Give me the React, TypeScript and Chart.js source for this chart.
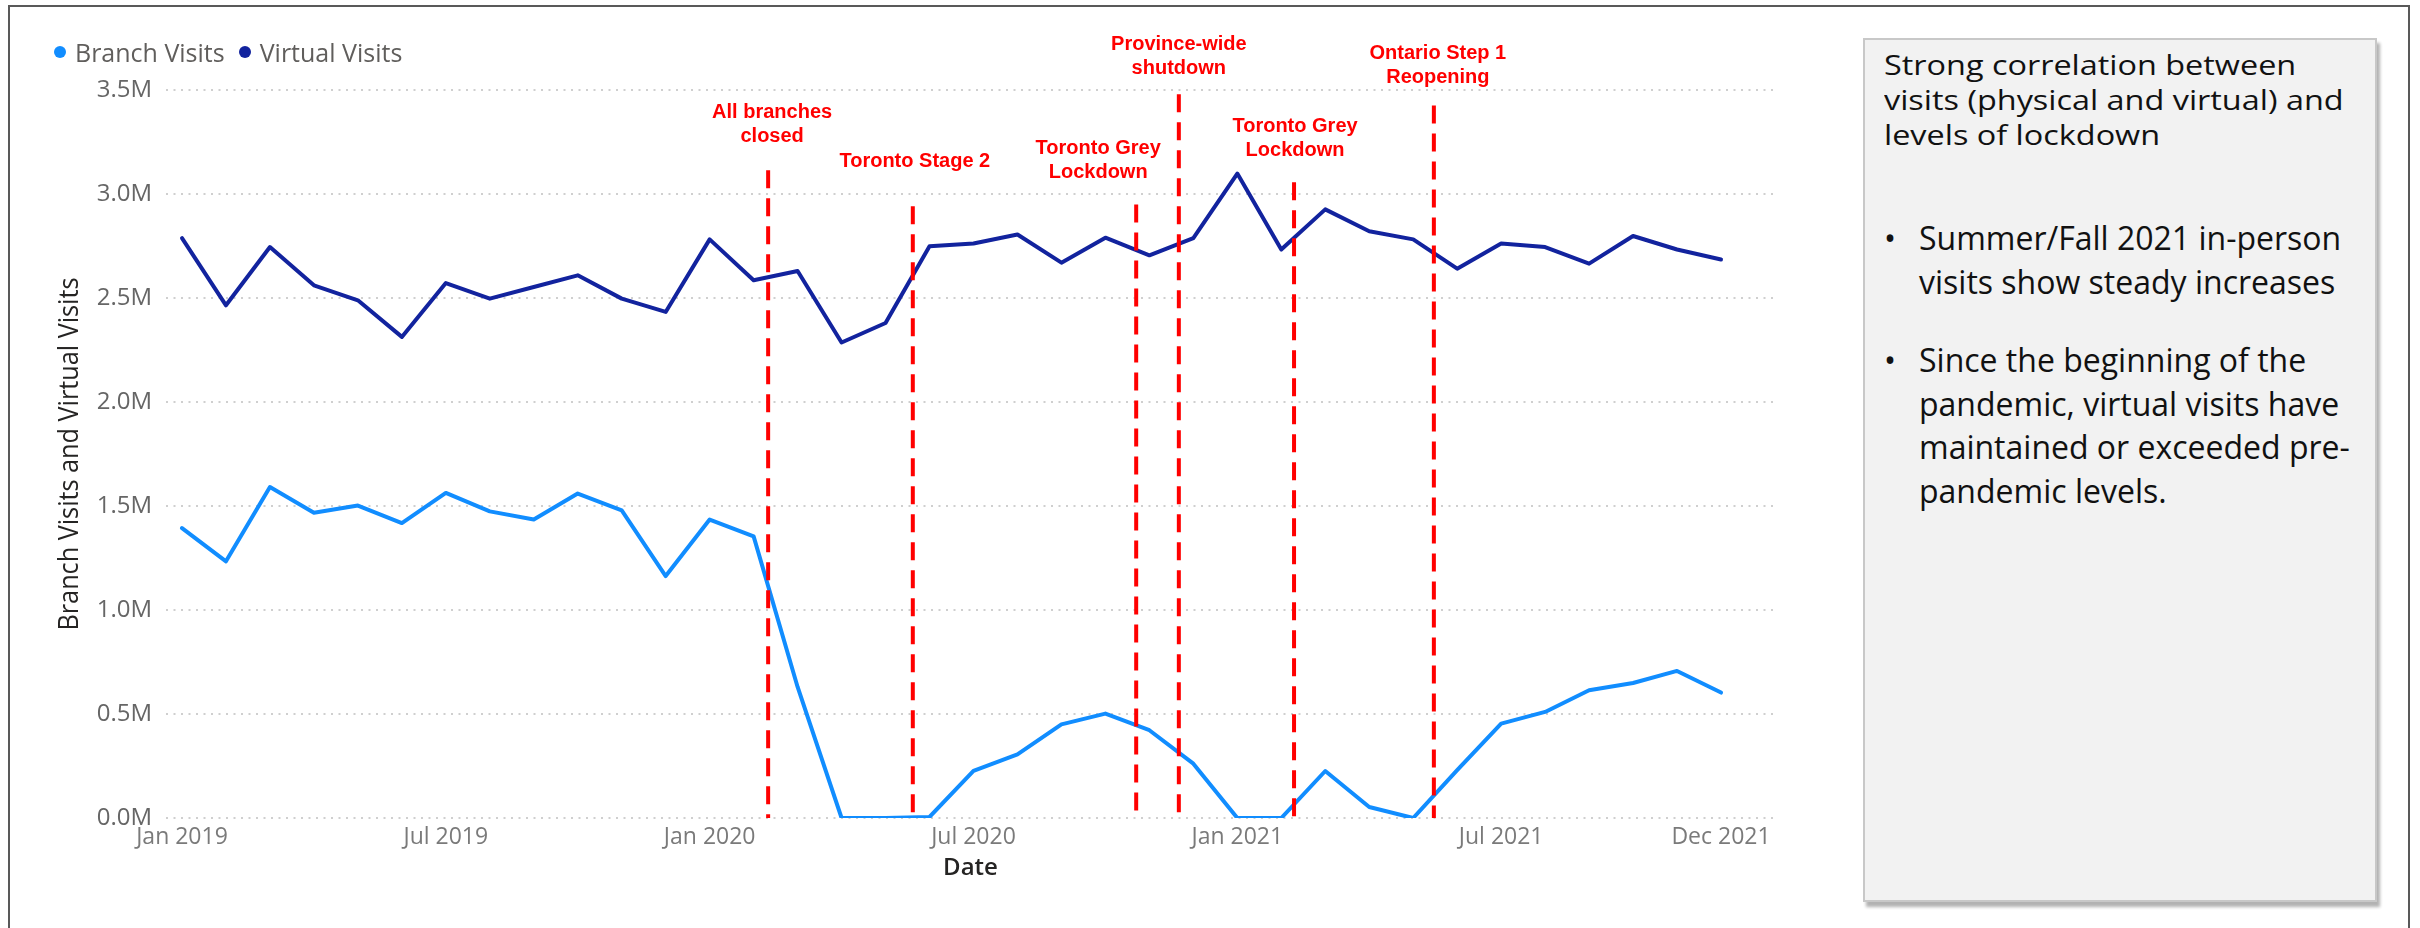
import React, { useEffect, useRef } from "react";
import { Chart, registerables } from "chart.js";

Chart.register(...registerables);

// Monthly categories
const months = [
  "Jan 2019", "Feb 2019", "Mar 2019", "Apr 2019", "May 2019", "Jun 2019",
  "Jul 2019", "Aug 2019", "Sep 2019", "Oct 2019", "Nov 2019", "Dec 2019",
  "Jan 2020", "Feb 2020", "Mar 2020", "Apr 2020", "May 2020", "Jun 2020",
  "Jul 2020", "Aug 2020", "Sep 2020", "Oct 2020", "Nov 2020", "Dec 2020",
  "Jan 2021", "Feb 2021", "Mar 2021", "Apr 2021", "May 2021", "Jun 2021",
  "Jul 2021", "Aug 2021", "Sep 2021", "Oct 2021", "Nov 2021", "Dec 2021",
];

// Visits, in millions
const branchVisits = [
  1.394, 1.234, 1.591, 1.468, 1.502, 1.418, 1.563, 1.474, 1.435, 1.56, 1.479, 1.163,
  1.435, 1.354, 0.63, 0.0, 0.0, 0.005, 0.226, 0.306, 0.45, 0.502, 0.422, 0.261,
  0.0, 0.0, 0.226, 0.053, 0.0, 0.23, 0.454, 0.51, 0.614, 0.649, 0.707, 0.603,
];
const virtualVisits = [
  2.788, 2.465, 2.745, 2.561, 2.489, 2.313, 2.572, 2.497, 2.553, 2.609, 2.497, 2.433,
  2.782, 2.585, 2.63, 2.286, 2.38, 2.749, 2.762, 2.805, 2.67, 2.79, 2.705, 2.788,
  3.098, 2.733, 2.926, 2.821, 2.782, 2.641, 2.762, 2.745, 2.665, 2.798, 2.733, 2.685,
];

const seriesNames = ["Branch Visits", "Virtual Visits"];
const seriesColors = ["#118DFF", "#12239E"];

const xTickLabels = ["Jan 2019", "Jul 2019", "Jan 2020", "Jul 2020", "Jan 2021", "Jul 2021", "Dec 2021"];
const yTickValues = [0, 0.5, 1, 1.5, 2, 2.5, 3, 3.5];

// Lockdown milestones: position on the month axis and the height where the marker starts (millions)
const eventLabels = [
  ["All branches", "closed"],
  ["Toronto Stage 2"],
  ["Toronto Grey", "Lockdown"],
  ["Province-wide", "shutdown"],
  ["Toronto Grey", "Lockdown"],
  ["Ontario Step 1", "Reopening"],
];
const eventMonthPos = [13.33, 16.62, 21.7, 22.67, 25.29, 28.47];
const eventLineTop = [3.114, 2.941, 2.95, 3.479, 3.057, 3.425];

// Placement of the milestone captions (horizontal nudge, first-line centre y in px)
const captionLayout = [
  { dx: 4, y: 112 },
  { dx: 2, y: 161 },
  { dx: -38, y: 148 },
  { dx: 0, y: 44 },
  { dx: 1, y: 126 },
  { dx: 4, y: 53 },
];

const Y_TITLE = "Branch Visits and Virtual Visits";

const summaryTitle = ["Strong correlation between", "visits (physical and virtual) and", "levels of lockdown"];
const summaryBullets = [
  ["Summer/Fall 2021 in-person", "visits show steady increases"],
  ["Since the beginning of the", "pandemic, virtual visits have", "maintained or exceeded pre-", "pandemic levels."],
];

const FONT = '"Open Sans", "Noto Sans", sans-serif';

export default function App() {
  const canvasRef = useRef<HTMLCanvasElement>(null);

  useEffect(() => {
    const canvas = canvasRef.current;
    if (!canvas) return;
    Chart.defaults.font.family = FONT;

    const eventsPlugin = {
      id: "lockdownEvents",
      afterDatasetsDraw(chart: any) {
        const { ctx, scales } = chart;
        const x = scales.x;
        const y = scales.y;
        ctx.save();
        eventMonthPos.forEach((pos, i) => {
          const px = x.getPixelForValue(pos);
          const top = y.getPixelForValue(eventLineTop[i]);
          const bottom = y.getPixelForValue(0);
          ctx.setLineDash([18, 10]);
          ctx.strokeStyle = "#FF0000";
          ctx.lineWidth = 4;
          ctx.beginPath();
          ctx.moveTo(px, top);
          ctx.lineTo(px, bottom);
          ctx.stroke();

          ctx.setLineDash([]);
          ctx.fillStyle = "#FF0000";
          ctx.font = 'bold 20px "Liberation Sans", Arial, sans-serif';
          ctx.textAlign = "center";
          ctx.textBaseline = "middle";
          const lay = captionLayout[i];
          eventLabels[i].forEach((t, j) => ctx.fillText(t, px + lay.dx, lay.y + j * 24));
        });
        ctx.restore();
      },
    };

    const yTitlePlugin = {
      id: "yTitle",
      afterDraw(chart: any) {
        const { ctx, chartArea } = chart;
        ctx.save();
        ctx.font = `500 28px ${FONT}`;
        const w = ctx.measureText(Y_TITLE).width;
        ctx.translate(70.5, (chartArea.top + chartArea.bottom) / 2);
        ctx.rotate(-Math.PI / 2);
        ctx.scale(353 / w, 1);
        ctx.fillStyle = "#252423";
        ctx.textAlign = "center";
        ctx.textBaseline = "middle";
        ctx.fillText(Y_TITLE, 0, 0);
        ctx.restore();
      },
    };

    const chart = new Chart(canvas, {
      type: "line",
      data: {
        datasets: [branchVisits, virtualVisits].map((vals, k) => ({
          label: seriesNames[k],
          data: vals.map((v, i) => ({ x: i, y: v })),
          borderColor: seriesColors[k],
          backgroundColor: seriesColors[k],
          borderWidth: 4,
          pointRadius: 0,
          tension: 0,
          borderJoinStyle: "round" as const,
          borderCapStyle: "round" as const,
        })),
      },
      options: {
        animation: false,
        responsive: false,
        layout: { padding: { left: 0, top: 90, right: 75, bottom: 40 } },
        plugins: { legend: { display: false }, tooltip: { enabled: false } },
        scales: {
          x: {
            type: "linear",
            min: -0.364,
            max: 36.228,
            grid: { display: false },
            border: { display: false },
            afterBuildTicks: (s: any) => {
              s.ticks = xTickLabels.map((l) => ({ value: months.indexOf(l) }));
            },
            afterFit: (s: any) => {
              s.height = 70;
            },
            ticks: {
              autoSkip: false,
              maxRotation: 0,
              padding: -2,
              color: "#7A7A7A",
              font: { size: 23 },
              callback: (v: any) => months[v as number] ?? "",
            },
            title: {
              display: true,
              text: "Date",
              color: "#252423",
              font: { size: 24, weight: "600" },
              padding: { top: 0, bottom: 5 },
            },
          },
          y: {
            type: "linear",
            min: 0,
            max: 3.5,
            afterBuildTicks: (s: any) => {
              s.ticks = yTickValues.map((v) => ({ value: v }));
            },
            afterFit: (s: any) => {
              s.width = 166;
            },
            grid: { color: "#CFCFCF", lineWidth: 2, drawTicks: false },
            border: { display: false, dash: [2, 5.5] },
            ticks: {
              padding: 14,
              color: "#666666",
              font: { size: 24 },
              callback: (v: any) => `${(v as number).toFixed(1)}M`,
            },
          },
        },
      },
      plugins: [eventsPlugin, yTitlePlugin],
    });
    return () => chart.destroy();
  }, []);

  return (
    <div style={{ position: "fixed", left: 0, top: 0, width: 2420, height: 928, background: "#fff", overflow: "hidden" }}>
      <canvas ref={canvasRef} width={1850} height={928} style={{ position: "absolute", left: 0, top: 0 }} />

      {/* legend */}
      <div
        style={{
          position: "absolute",
          left: 54,
          top: 37,
          display: "flex",
          alignItems: "center",
          fontFamily: FONT,
          fontSize: 25,
          lineHeight: "30px",
          color: "#605E5C",
          whiteSpace: "nowrap",
        }}
      >
        {seriesNames.map((name, i) => (
          <div key={name} style={{ display: "flex", alignItems: "center", marginRight: 14 }}>
            <span
              style={{
                display: "inline-block",
                width: 12,
                height: 12,
                borderRadius: 6,
                background: seriesColors[i],
                marginRight: 9,
              }}
            />
            <span>{name}</span>
          </div>
        ))}
      </div>

      {/* summary panel */}
      <div
        style={{
          position: "absolute",
          left: 1863,
          top: 38,
          width: 514,
          height: 864,
          boxSizing: "border-box",
          background: "#F2F2F2",
          border: "2px solid #C8C8C8",
          boxShadow: "3px 5px 3px rgba(0,0,0,0.3)",
          fontFamily: FONT,
          color: "#111",
        }}
      >
        <div
          style={{
            position: "absolute",
            left: 19,
            top: 7,
            fontSize: 27,
            lineHeight: "35px",
            whiteSpace: "nowrap",
            transform: "scaleX(1.2)",
            transformOrigin: "0 0",
          }}
        >
          {summaryTitle.map((t) => (
            <div key={t}>{t}</div>
          ))}
        </div>
        {summaryBullets.map((lines, k) => (
          <div
            key={k}
            style={{
              position: "absolute",
              left: 0,
              top: k === 0 ? 176 : 298,
              fontSize: 32,
              lineHeight: "43.5px",
              whiteSpace: "nowrap",
            }}
          >
            <span style={{ position: "absolute", left: 19, top: 0 }}>•</span>
            <div style={{ marginLeft: 54 }}>
              {lines.map((t) => (
                <div key={t}>{t}</div>
              ))}
            </div>
          </div>
        ))}
      </div>

      {/* outer frame */}
      <div
        style={{
          position: "absolute",
          left: 8,
          top: 5,
          width: 2402,
          height: 960,
          boxSizing: "border-box",
          border: "2px solid #595959",
          pointerEvents: "none",
        }}
      />
    </div>
  );
}
